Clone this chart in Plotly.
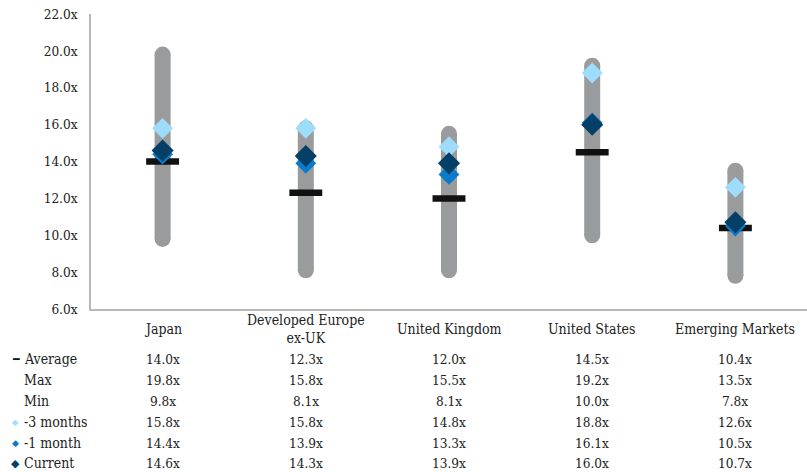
import plotly.graph_objects as go

categories = ["Japan", "Developed Europe<br>ex-UK", "United Kingdom", "United States", "Emerging Markets"]
avg_vals = [14.0, 12.3, 12.0, 14.5, 10.4]
max_vals = [19.8, 15.8, 15.5, 19.2, 13.5]
min_vals = [9.8, 8.1, 8.1, 10.0, 7.8]
m3_vals = [15.8, 15.8, 14.8, 18.8, 12.6]
m1_vals = [14.4, 13.9, 13.3, 16.1, 10.5]
cur_vals = [14.6, 14.3, 13.9, 16.0, 10.7]
y_ticks = [6, 8, 10, 12, 14, 16, 18, 20, 22]
y_tick_text = [f"{v:.1f}x" for v in y_ticks]

FONT = "DejaVu Serif Condensed, DejaVu Serif, Liberation Serif, serif"
GREY = "#9a9b9d"
C_AVG = "#111111"
C_M3 = "#9ddcfb"
C_M1 = "#0a7bcb"
C_CUR = "#033f66"
TXT = "#222222"
FS = 13.5

xs = list(range(len(categories)))

fig = go.Figure()

# range bars with rounded caps
bx, by = [], []
for i in xs:
    bx += [i, i, None]
    by += [min_vals[i], max_vals[i], None]
fig.add_trace(go.Scatter(x=bx, y=by, mode="lines+markers",
                         line=dict(color=GREY, width=16),
                         marker=dict(symbol="circle", size=16, color=GREY),
                         hoverinfo="skip", showlegend=False))

fig.add_trace(go.Scatter(x=xs, y=avg_vals, mode="markers",
                         marker=dict(symbol="line-ew", size=23.5,
                                     line=dict(color=C_AVG, width=6.5)),
                         showlegend=False))
fig.add_trace(go.Scatter(x=xs, y=m3_vals, mode="markers",
                         marker=dict(symbol="diamond", size=16, color=C_M3),
                         showlegend=False))
fig.add_trace(go.Scatter(x=xs, y=m1_vals, mode="markers",
                         marker=dict(symbol="diamond", size=16, color=C_M1),
                         showlegend=False))
fig.add_trace(go.Scatter(x=xs, y=cur_vals, mode="markers",
                         marker=dict(symbol="diamond", size=17, color=C_CUR),
                         showlegend=False))

plot_top, plot_bottom = 14, 309
plot_h = plot_bottom - plot_top
plot_left, plot_w = 91, 716

def py(ypix):
    return (plot_bottom - ypix) / plot_h

def px(xpix):
    return (xpix - plot_left) / plot_w

annos = []
for i, c in enumerate(categories):
    annos.append(dict(x=i, y=py(329), xref="x", yref="paper", text=c,
                      showarrow=False, xanchor="center", yanchor="middle",
                      font=dict(family=FONT, size=14, color=TXT)))

rows = [
    ("Average", avg_vals, "━", C_AVG, 11),
    ("Max", max_vals, "", None, 9),
    ("Min", min_vals, "", None, 9),
    ("-3 months", m3_vals, "◆", C_M3, 8),
    ("-1 month", m1_vals, "◆", C_M1, 9),
    ("Current", cur_vals, "◆", C_CUR, 11),
]
row_y = [359, 380, 401, 422, 443, 463]
for (label, vals, sym, col, ssz), ry in zip(rows, row_y):
    annos.append(dict(x=px(22), y=py(ry), xref="paper", yref="paper", text=label,
                      showarrow=False, xanchor="left", yanchor="middle",
                      font=dict(family=FONT, size=14, color=TXT)))
    if sym:
        annos.append(dict(x=px(15.5), y=py(ry), xref="paper", yref="paper", text=sym,
                          showarrow=False, xanchor="center", yanchor="middle",
                          font=dict(family="DejaVu Sans", size=ssz, color=col)))
    for i, v in enumerate(vals):
        annos.append(dict(x=i, y=py(ry), xref="x", yref="paper", text=f"{v:.1f}x",
                          showarrow=False, xanchor="center", yanchor="middle",
                          font=dict(family=FONT, size=FS, color=TXT)))

fig.update_layout(
    width=807, height=472,
    margin=dict(l=plot_left, r=0, t=plot_top, b=472 - plot_bottom),
    paper_bgcolor="white", plot_bgcolor="white",
    xaxis=dict(range=[-0.5, 4.5], showticklabels=False, showgrid=False,
               zeroline=False, showline=True, linecolor="#b8b8b8", linewidth=1.5,
               ticks=""),
    yaxis=dict(range=[6, 22], tickvals=y_ticks, ticktext=y_tick_text,
               showgrid=False, zeroline=False, showline=True, linecolor="#b8b8b8",
               linewidth=1.5, ticks="", ticklen=0, ticklabelstandoff=9,
               tickfont=dict(family=FONT, size=FS, color=TXT)),
    annotations=annos,
    showlegend=False,
)

fig.write_html("out.html")
